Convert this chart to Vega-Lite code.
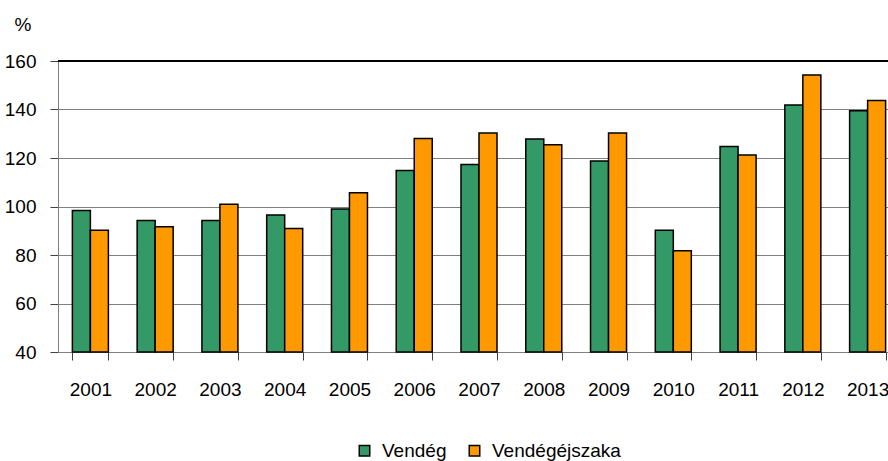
{
  "$schema": "https://vega.github.io/schema/vega-lite/v6.json",
  "width": 830,
  "height": 291,
  "autosize": {"type": "none"},
  "padding": {"left": 58, "top": 61, "right": 0, "bottom": 109},
  "background": "white",
  "config": {
    "view": {"stroke": null},
    "font": "Liberation Sans"
  },
  "data": {
    "values": [
      {"year": "2001", "s": "Vendég", "v": 98.3}, {"year": "2001", "s": "Vendégéjszaka", "v": 90.2},
      {"year": "2002", "s": "Vendég", "v": 94.2}, {"year": "2002", "s": "Vendégéjszaka", "v": 91.7},
      {"year": "2003", "s": "Vendég", "v": 94.2}, {"year": "2003", "s": "Vendégéjszaka", "v": 100.9},
      {"year": "2004", "s": "Vendég", "v": 96.5}, {"year": "2004", "s": "Vendégéjszaka", "v": 90.9},
      {"year": "2005", "s": "Vendég", "v": 99.0}, {"year": "2005", "s": "Vendégéjszaka", "v": 105.7},
      {"year": "2006", "s": "Vendég", "v": 114.8}, {"year": "2006", "s": "Vendégéjszaka", "v": 128.0},
      {"year": "2007", "s": "Vendég", "v": 117.3}, {"year": "2007", "s": "Vendégéjszaka", "v": 130.3},
      {"year": "2008", "s": "Vendég", "v": 127.8}, {"year": "2008", "s": "Vendégéjszaka", "v": 125.5},
      {"year": "2009", "s": "Vendég", "v": 118.8}, {"year": "2009", "s": "Vendégéjszaka", "v": 130.3},
      {"year": "2010", "s": "Vendég", "v": 90.2}, {"year": "2010", "s": "Vendégéjszaka", "v": 81.8},
      {"year": "2011", "s": "Vendég", "v": 124.7}, {"year": "2011", "s": "Vendégéjszaka", "v": 121.2},
      {"year": "2012", "s": "Vendég", "v": 141.9}, {"year": "2012", "s": "Vendégéjszaka", "v": 154.2},
      {"year": "2013", "s": "Vendég", "v": 139.5}, {"year": "2013", "s": "Vendégéjszaka", "v": 143.7}
    ]
  },
  "layer": [
    {
      "mark": {"type": "bar", "stroke": "black", "strokeWidth": 1.5},
      "encoding": {
        "x": {
          "field": "year", "type": "nominal",
          "scale": {"range": [0, 842], "paddingInner": 0.444, "paddingOuter": 0.222},
          "axis": {
            "title": null, "labelAngle": 0, "tickBand": "extent",
            "domainColor": "#808080", "tickColor": "#404040", "tickSize": 8,
            "labelFontSize": 19, "labelColor": "black", "labelPadding": 20,
            "labelBaseline": "top", "grid": false
          }
        },
        "xOffset": {"field": "s", "type": "nominal", "sort": ["Vendég", "Vendégéjszaka"], "scale": {"paddingInner": 0, "paddingOuter": 0}},
        "y": {
          "field": "v", "type": "quantitative",
          "scale": {"domain": [40, 160], "nice": false, "zero": false},
          "axis": {
            "title": "%", "titleAngle": 0, "titleX": -44, "titleY": -31,
            "titleAlign": "left", "titleBaseline": "alphabetic",
            "titleFontSize": 19, "titleFontWeight": "normal", "titleColor": "black",
            "values": [40, 60, 80, 100, 120, 140, 160],
            "labelFontSize": 19, "labelColor": "black", "labelPadding": 14,
            "tickSize": 8, "tickColor": "#404040", "domainColor": "#808080",
            "gridColor": "#808080", "gridOpacity": 1, "gridWidth": 1.2
          }
        },
        "y2": {"datum": 40},
        "fill": {
          "field": "s", "type": "nominal",
          "scale": {"domain": ["Vendég", "Vendégéjszaka"], "range": ["#339966", "#FF9900"]},
          "legend": {
            "title": null, "orient": "none", "direction": "horizontal",
            "legendX": 297, "legendY": 380,
            "symbolType": "square", "symbolSize": 110,
            "symbolStrokeColor": "black", "symbolStrokeWidth": 1.5, "symbolOpacity": 1,
            "labelFontSize": 19, "labelColor": "black", "labelOffset": 8,
            "columnPadding": 18
          }
        }
      }
    },
    {
      "mark": {"type": "rule", "stroke": "black", "strokeWidth": 1.5},
      "encoding": {"y": {"datum": 160}}
    }
  ]
}
